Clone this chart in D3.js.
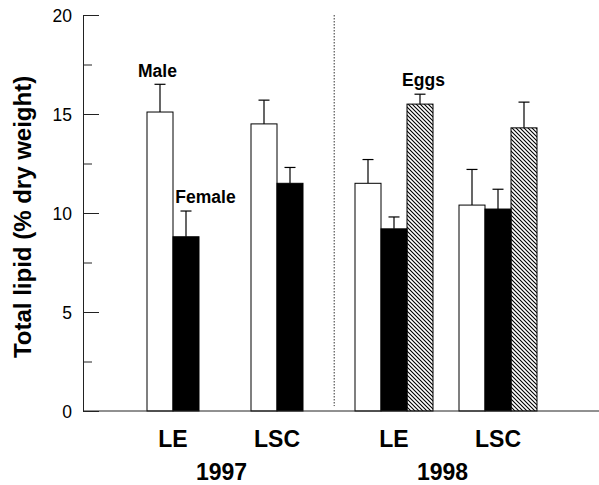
<!DOCTYPE html>
<html>
<head>
<meta charset="utf-8">
<script src="https://cdn.jsdelivr.net/npm/d3@7"></script>
<style>
  body { margin: 0; background: #fff; }
  svg { display: block; }
  svg text { font-family: "Liberation Sans", Arial, Helvetica, sans-serif; fill: #000; }
</style>
</head>
<body>
<div class="chart"></div>
<script>
// ---- data ----
const groupKeys = ['LE97', 'LSC97', 'LE98', 'LSC98'];
const siteLabels = ['LE', 'LSC', 'LE', 'LSC'];
const yearOf = ['1997', '1997', '1998', '1998'];
const years = ['1997', '1998'];
const series = ['Male', 'Female', 'Eggs'];
const maleMean = [15.1, 14.5, 11.5, 10.4];
const maleErr = [1.4, 1.2, 1.2, 1.8];
const femaleMean = [8.8, 11.5, 9.2, 10.2];
const femaleErr = [1.3, 0.8, 0.6, 1.0];
const eggsMean = [null, null, 15.5, 14.3];
const eggsErr = [null, null, 0.5, 1.3];
const yMajor = [0, 5, 10, 15, 20];
const yMinor = [2.5, 7.5, 12.5, 17.5];

const width = 599;
const height = 485;

const svg = d3.select('.chart')
  .append('svg')
  .attr('width', width)
  .attr('height', height);

// hatch for the eggs bars
const defs = svg.append('defs');
defs.append('pattern')
  .attr('id', 'hatch')
  .attr('patternUnits', 'userSpaceOnUse')
  .attr('width', 4)
  .attr('height', 4)
  .append('path')
  .attr('d', 'M0,0 L4,4 M-1,3 L1,5 M3,-1 L5,1')
  .attr('stroke', '#000')
  .attr('stroke-width', 1.1);

const y = d3.scaleLinear().domain([0, 20]).range([411, 15]);

const x = d3.scaleBand()
  .domain(groupKeys)
  .range([82, 602])
  .paddingInner(0.25)
  .paddingOuter(0.625);

const xs = d3.scaleBand()
  .domain(series)
  .range([0, x.bandwidth()]);

const fills = { Male: '#fff', Female: '#000', Eggs: 'url(#hatch)' };
const means = { Male: maleMean, Female: femaleMean, Eggs: eggsMean };
const errs = { Male: maleErr, Female: femaleErr, Eggs: eggsErr };

// flatten into bar records
const bars = [];
groupKeys.forEach((g, gi) => {
  series.forEach((s) => {
    if (means[s][gi] != null) {
      bars.push({ group: g, gi: gi, s: s, v: means[s][gi], e: errs[s][gi] });
    }
  });
});

// year separator
const sepX = x('LE98') - x.step() * 0.2;
svg.append('line')
  .attr('x1', sepX).attr('x2', sepX)
  .attr('y1', y(20)).attr('y2', y(0.25))
  .attr('stroke', '#333')
  .attr('stroke-width', 1)
  .attr('stroke-dasharray', '1.5,1.5');

// error bars (upward only)
const eb = svg.append('g').selectAll('g.err')
  .data(bars)
  .enter().append('g')
  .attr('class', 'err');

eb.append('line')
  .attr('x1', (d) => x(d.group) + xs(d.s) + xs.bandwidth() / 2)
  .attr('x2', (d) => x(d.group) + xs(d.s) + xs.bandwidth() / 2)
  .attr('y1', (d) => y(d.v))
  .attr('y2', (d) => y(d.v + d.e))
  .attr('stroke', '#000')
  .attr('stroke-width', 1.2);

eb.append('line')
  .attr('x1', (d) => x(d.group) + xs(d.s) + xs.bandwidth() / 2 - 5.5)
  .attr('x2', (d) => x(d.group) + xs(d.s) + xs.bandwidth() / 2 + 5.5)
  .attr('y1', (d) => y(d.v + d.e))
  .attr('y2', (d) => y(d.v + d.e))
  .attr('stroke', '#000')
  .attr('stroke-width', 1.2);

// bars
svg.append('g').selectAll('rect')
  .data(bars)
  .enter().append('rect')
  .attr('x', (d) => x(d.group) + xs(d.s))
  .attr('y', (d) => y(d.v))
  .attr('width', xs.bandwidth())
  .attr('height', (d) => y(0) - y(d.v))
  .attr('fill', (d) => fills[d.s])
  .attr('stroke', '#000')
  .attr('stroke-width', 1);

// y axis: major and minor ticks point inward
const yAxis = d3.axisLeft(y)
  .tickValues(yMajor)
  .tickSizeInner(-16)
  .tickSizeOuter(0)
  .tickPadding(11)
  .tickFormat(d3.format('d'));

const gY = svg.append('g')
  .attr('transform', 'translate(83,0)')
  .call(yAxis);
gY.selectAll('text')
  .style('font-size', '17.5px')
  .attr('dy', '0.35em');
gY.selectAll('line, path').attr('stroke', '#222');

const gYm = svg.append('g')
  .attr('transform', 'translate(83,0)')
  .call(d3.axisLeft(y).tickValues(yMinor).tickSizeInner(-9).tickSizeOuter(0).tickFormat(''));
gYm.select('path').remove();
gYm.selectAll('line').attr('stroke', '#222');

// x axis baseline
svg.append('line')
  .attr('x1', 83).attr('x2', width)
  .attr('y1', y(0)).attr('y2', y(0))
  .attr('stroke', '#222')
  .attr('stroke-width', 1);

// category labels, centred over the bars that are present
const labelX = groupKeys.map((g, gi) => {
  const n = series.filter((s) => means[s][gi] != null).length;
  return x(g) + n * xs.bandwidth() / 2;
});

svg.append('g').selectAll('text')
  .data(siteLabels)
  .enter().append('text')
  .attr('x', (d, i) => labelX[i])
  .attr('y', 447)
  .attr('text-anchor', 'middle')
  .style('font-size', '23px')
  .style('font-weight', 'bold')
  .text((d) => d);

svg.append('g').selectAll('text')
  .data(years)
  .enter().append('text')
  .attr('x', (d) => d3.mean(labelX.filter((v, i) => yearOf[i] === d)) - 3.5)
  .attr('y', 480)
  .attr('text-anchor', 'middle')
  .style('font-size', '23px')
  .style('font-weight', 'bold')
  .text((d) => d);

// y title
svg.append('text')
  .attr('transform', `translate(31,${y(9.8)}) rotate(-90)`)
  .attr('text-anchor', 'middle')
  .style('font-size', '24px')
  .style('font-weight', 'bold')
  .text('Total lipid (% dry weight)');

// series annotations
const notes = [
  { s: 'Male', gi: 0, dx: -2.5, dy: -7 },
  { s: 'Female', gi: 0, dx: 19.5, dy: -8 },
  { s: 'Eggs', gi: 2, dx: 3.5, dy: -8.5 }
];
svg.append('g').selectAll('text')
  .data(notes)
  .enter().append('text')
  .attr('x', (d) => x(groupKeys[d.gi]) + xs(d.s) + xs.bandwidth() / 2 + d.dx)
  .attr('y', (d) => y(means[d.s][d.gi] + errs[d.s][d.gi]) + d.dy)
  .attr('text-anchor', 'middle')
  .style('font-size', '17.5px')
  .style('font-weight', 'bold')
  .text((d) => d.s);
</script>
</body>
</html>
